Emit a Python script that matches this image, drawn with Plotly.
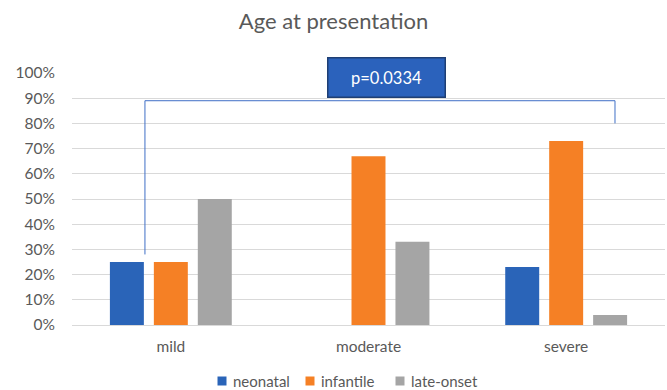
import plotly.graph_objects as go

# Severity groups and share of patients by age at presentation
categories = ["mild", "moderate", "severe"]
neonatal = [0.25, 0.0, 0.23]
infantile = [0.25, 0.67, 0.73]
late_onset = [0.50, 0.33, 0.04]

series_names = ["neonatal", "infantile", "late-onset"]
series_colors = ["#2A64B8", "#F58025", "#A5A5A5"]

tick_vals = [i / 10 for i in range(11)]
tick_text = [f"{i * 10}%" for i in range(11)]

p_label = "p=0.0334"

FONT = "Lato"
GREY = "#595959"
W, H = 667, 390
ML, MR, MT, MB = 72, 2, 73, 65
PW = W - ML - MR
PH = H - MT - MB

fig = go.Figure()
for name, vals, col in zip(series_names, [neonatal, infantile, late_onset], series_colors):
    fig.add_trace(go.Bar(x=categories, y=vals, name=name, marker_color=col,
                         marker_line_width=0, showlegend=False))

# Significance bracket from the mild group across to the severe group
fig.add_shape(type="path", xref="x", yref="y",
              path="M -0.131,0.28 L -0.131,0.89 L 2.247,0.89 L 2.247,0.80",
              line=dict(color="#3F6FC6", width=1))

fig.add_annotation(x=1.093, xref="x", y=0.982, yref="y", text=p_label,
                   showarrow=False, font=dict(family=FONT, size=16.5, color="white"),
                   bgcolor="#2B62BC", bordercolor="#1F3F74", borderwidth=1.5,
                   width=114, height=36)

# Compact legend row below the axis: colour square followed by the series name
def px_x(px):
    return (px - ML) / PW

def px_y(py):
    return (H - MB - py) / PH

legend_x = [222, 310, 400]
legend_y = 381
for name, col, lx in zip(series_names, series_colors, legend_x):
    fig.add_shape(type="rect", xref="paper", yref="paper",
                  x0=px_x(lx - 4.5), x1=px_x(lx + 4.5),
                  y0=px_y(legend_y + 4.5), y1=px_y(legend_y - 4.5),
                  fillcolor=col, line_width=0)
    fig.add_annotation(x=px_x(lx + 9), y=px_y(legend_y), xref="paper", yref="paper",
                       xanchor="left", yanchor="middle", text=name, showarrow=False,
                       font=dict(family=FONT, size=15, color=GREY))

fig.update_layout(
    width=W, height=H,
    margin=dict(l=ML, r=MR, t=MT, b=MB),
    paper_bgcolor="white", plot_bgcolor="white",
    font=dict(family=FONT, color=GREY, size=15),
    title=dict(text="Age at presentation", x=0.5, xanchor="center", y=0.945,
               yanchor="middle", font=dict(family=FONT, size=22, color=GREY)),
    barmode="group", bargap=0.333, bargroupgap=0.227,
    showlegend=False,
    xaxis=dict(showgrid=False, showline=False, ticks="", ticklabelstandoff=10,
               tickfont=dict(size=15.5)),
    yaxis=dict(range=[0, 1], tickvals=tick_vals, ticktext=tick_text,
               showgrid=True, gridcolor="#D9D9D9", gridwidth=1,
               zeroline=True, zerolinecolor="#D9D9D9", zerolinewidth=1,
               ticks="", ticklabelstandoff=16, tickfont=dict(size=15.5)),
)

fig.write_html("out.html")
